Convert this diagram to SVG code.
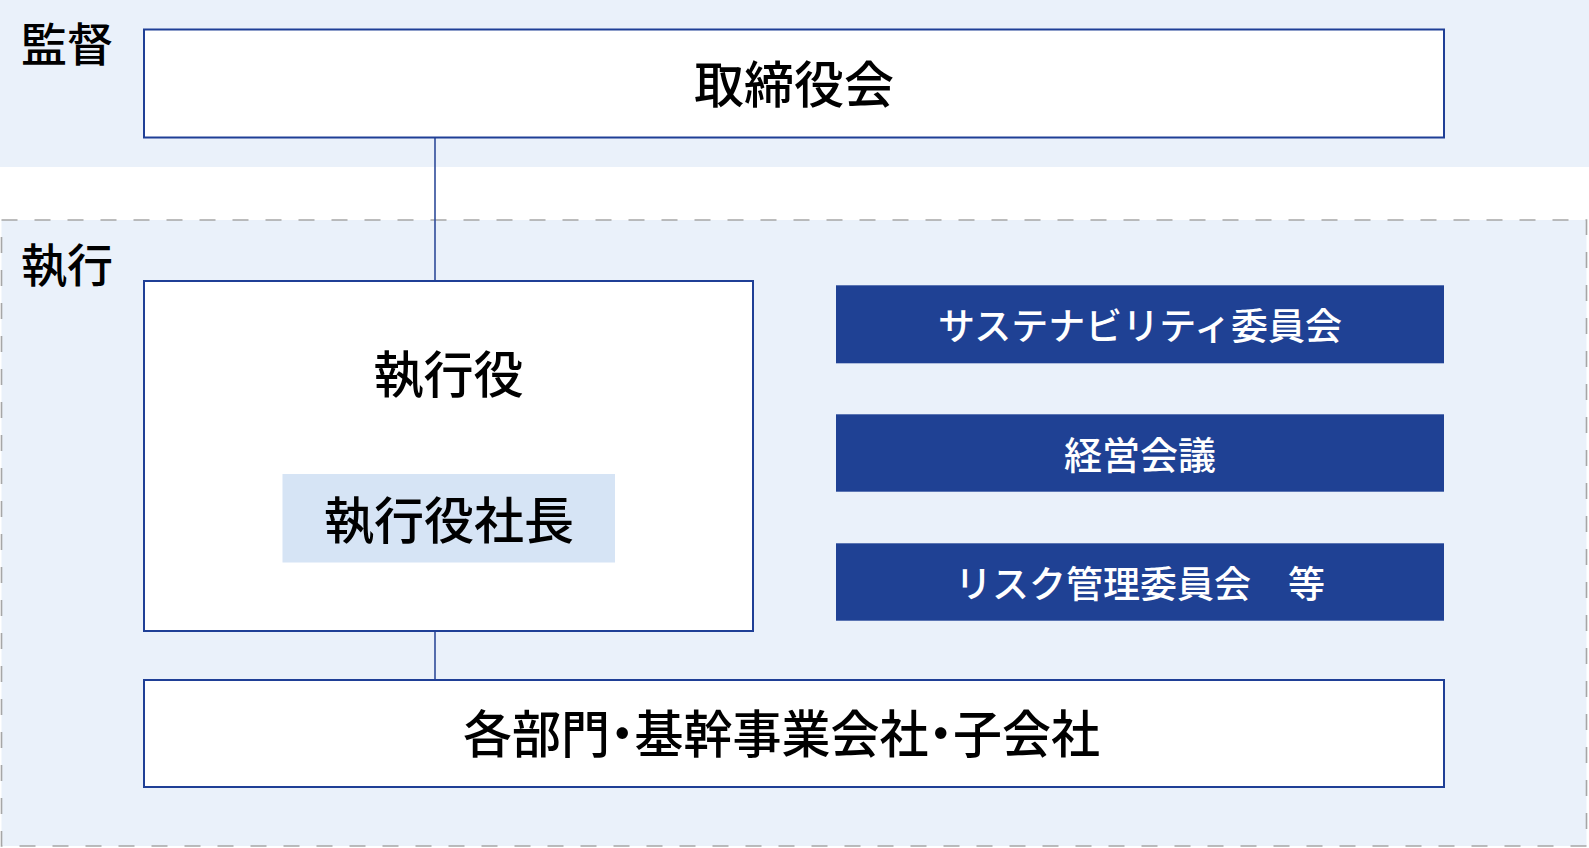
<svg xmlns="http://www.w3.org/2000/svg" width="1589" height="848" viewBox="0 0 1589 848">
<style>
.bg{fill:#EAF1FA}
.box{fill:#FFFFFF;stroke:#1F3F96;stroke-width:2}
.blue{fill:#1F4194}
.pres{fill:#D6E4F5}
.conn{stroke:#2F4C9A;stroke-width:1.6;fill:none}
.dash{fill:#EAF1FA;stroke:#A6A6A6;stroke-width:1.6;stroke-dasharray:16 17}
.t{font-family:"Noto Sans CJK JP","Noto Sans CJK SC",sans-serif;fill:#000000;text-anchor:middle;font-weight:500}
.lbl{font-family:"Noto Sans CJK JP","Noto Sans CJK SC",sans-serif;fill:#000000;font-weight:500}
.w{font-family:"Noto Sans CJK JP","Noto Sans CJK SC",sans-serif;fill:#FFFFFF;text-anchor:middle;font-size:37px;font-weight:500}
</style>
<g id="zone-supervision">
<rect class="bg" x="0" y="0" width="1589" height="167"/>
<text class="lbl" x="21" y="60.5" font-size="46">監督</text>
</g>
<g id="zone-execution">
<rect class="dash" x="1.5" y="220" width="1585" height="626"/>
<text class="lbl" x="21" y="281.5" font-size="46">執行</text>
</g>
<g id="connectors">
<line class="conn" x1="435" y1="137.5" x2="435" y2="281"/>
<line class="conn" x1="435" y1="631" x2="435" y2="680"/>
</g>
<g id="board">
<rect class="box" x="144" y="29.5" width="1300" height="108"/>
<text class="t" x="794" y="102.5" font-size="50">取締役会</text>
</g>
<g id="executive-officers">
<rect class="box" x="144" y="281" width="609" height="350"/>
<text class="t" x="448.5" y="392.5" font-size="50">執行役</text>
</g>
<g id="president">
<rect class="pres" x="282.5" y="474" width="332.5" height="88.5"/>
<text class="t" x="449" y="538.5" font-size="50">執行役社長</text>
</g>
<g id="sustainability">
<rect class="blue" x="836" y="285.3" width="608" height="78"/>
<text class="w" x="1140" y="340">サステナビリティ委員会</text>
</g>
<g id="management-meeting">
<rect class="blue" x="836" y="414.3" width="608" height="77.4"/>
<text class="w" x="1140" y="469" style="font-size:38px">経営会議</text>
</g>
<g id="risk">
<rect class="blue" x="836" y="543.3" width="608" height="77.4"/>
<text class="w" x="1140" y="598">リスク管理委員会　等</text>
</g>
<g id="divisions">
<rect class="box" x="144" y="680" width="1300" height="107"/>
<text class="lbl" x="463" y="753" font-size="51" textLength="637" lengthAdjust="spacingAndGlyphs" style="font-feature-settings:'palt'">各部門・基幹事業会社・子会社</text>
</g>
</svg>
